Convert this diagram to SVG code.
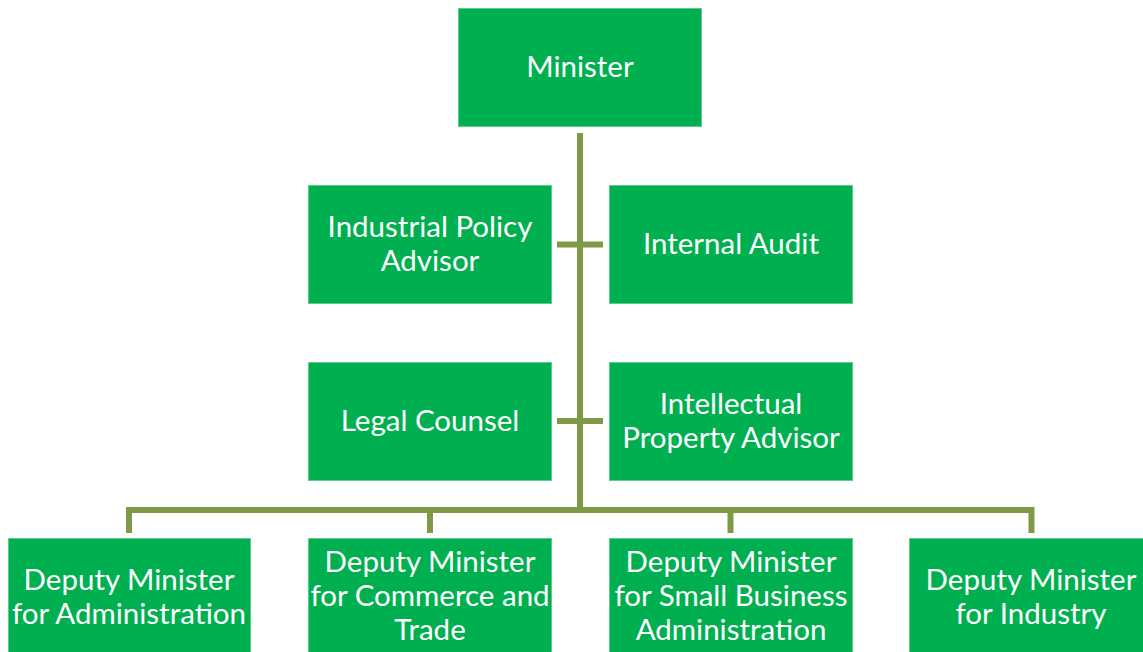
<svg xmlns="http://www.w3.org/2000/svg" width="1143" height="652" viewBox="0 0 1143 652">
<style>
.box{fill:#00B050;stroke:#5FCB8A;stroke-width:1}
.t{font-family:Lato,"Open Sans","Liberation Sans",sans-serif;font-size:29.5px;fill:#FFFFFF;text-anchor:middle}
.c{stroke:#7E9A47;stroke-width:6;fill:none;stroke-linejoin:miter}
</style>
<rect width="1143" height="652" fill="#FFFFFF"/>
<g id="connectors">
<line class="c" x1="580" y1="133" x2="580" y2="510"/>
<line class="c" x1="557" y1="244.5" x2="603" y2="244.5"/>
<line class="c" x1="557" y1="421" x2="603" y2="421"/>
<path class="c" d="M129,533 V510 H1031.5 V533"/>
<line class="c" x1="430" y1="510" x2="430" y2="533"/>
<line class="c" x1="730.5" y1="510" x2="730.5" y2="533"/>
</g>
<g id="minister"><rect class="box" x="458.5" y="8.5" width="243" height="118"/><text class="t" x="580" y="77">Minister</text></g>
<g id="industrial-policy-advisor"><rect class="box" x="308.5" y="185.5" width="243" height="118"/><text class="t" x="430" y="237">Industrial Policy</text><text class="t" x="430" y="271">Advisor</text></g>
<g id="internal-audit"><rect class="box" x="609.5" y="185.5" width="243" height="118"/><text class="t" x="731" y="254">Internal Audit</text></g>
<g id="legal-counsel"><rect class="box" x="308.5" y="362.5" width="243" height="118"/><text class="t" x="430" y="431">Legal Counsel</text></g>
<g id="ip-advisor"><rect class="box" x="609.5" y="362.5" width="243" height="118"/><text class="t" x="731" y="414">Intellectual</text><text class="t" x="731" y="448">Property Advisor</text></g>
<g id="dm-administration"><rect class="box" x="8.5" y="538.5" width="242" height="118"/><text class="t" x="129" y="590">Deputy Minister</text><text class="t" x="129" y="624">for Administration</text></g>
<g id="dm-commerce"><rect class="box" x="308.5" y="538.5" width="243" height="118"/><text class="t" x="430" y="572">Deputy Minister</text><text class="t" x="430" y="606">for Commerce and</text><text class="t" x="430" y="640">Trade</text></g>
<g id="dm-small-business"><rect class="box" x="609.5" y="538.5" width="243" height="118"/><text class="t" x="731" y="572">Deputy Minister</text><text class="t" x="731" y="606">for Small Business</text><text class="t" x="731" y="640">Administration</text></g>
<g id="dm-industry"><rect class="box" x="909.5" y="538.5" width="243" height="118"/><text class="t" x="1031" y="590">Deputy Minister</text><text class="t" x="1031" y="624">for Industry</text></g>
</svg>
